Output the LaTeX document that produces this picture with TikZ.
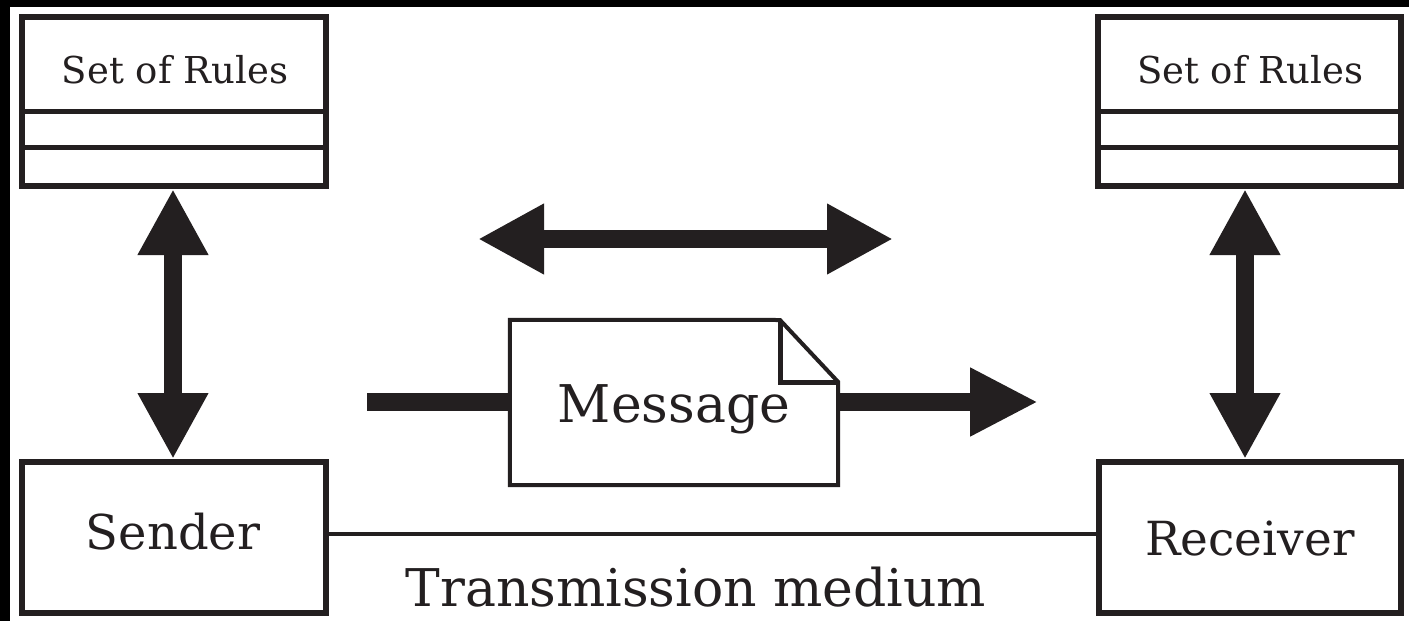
\documentclass[tikz,border=0pt]{standalone}
\usepackage{fontspec}
\setmainfont{DejaVu Serif}
\usetikzlibrary{arrows.meta}
\definecolor{ink}{RGB}{35,31,32}
\begin{document}
\begin{tikzpicture}[x=1pt,y=-1pt,
  box/.style={draw=ink,line width=5.5pt,inner sep=0pt,outer sep=0pt,minimum width=304pt},
  lbl/.style={anchor=base,inner sep=0pt,text=ink},
  fat/.style={draw=ink,line width=18pt},
  oneway/.style={fat,-{Triangle[length=68pt,width=64pt]}},
  twoway/.style={fat,{Triangle[length=66pt,width=66pt]}-{Triangle[length=66pt,width=66pt]}}]
\useasboundingbox (0,0) rectangle (1409,621);
\fill[black] (0,0) rectangle (1409,621);
\fill[white] (10,7) rectangle (1409,621);
% rule boxes
\node[box,minimum height=169pt] (rulesL) at (174,101.5) {};
\node[box,minimum height=169pt,minimum width=303pt] (rulesR) at (1249.5,101.5) {};
\coordinate (d1) at (0,111.5);
\coordinate (d2) at (0,147.5);
\draw[ink,line width=5.5pt] (rulesL.west |- d1) -- (rulesL.east |- d1);
\draw[ink,line width=5.5pt] (rulesL.west |- d2) -- (rulesL.east |- d2);
\draw[ink,line width=5.5pt] (rulesR.west |- d1) -- (rulesR.east |- d1);
\draw[ink,line width=5.5pt] (rulesR.west |- d2) -- (rulesR.east |- d2);
\node[lbl,font=\fontsize{37}{40}\selectfont] (tL) at (175,83) {Set of Rules};
\node[lbl,font=\fontsize{37}{40}\selectfont] (tR) at (1250,83) {Set of Rules};
% sender / receiver
\node[box,minimum height=151pt] (sender) at (174,537.5) {};
\node[box,minimum height=151pt,minimum width=302pt] (receiver) at (1250,537.5) {};
\node[lbl,font=\fontsize{48}{52}\selectfont] (ts) at (173,549) {Sender};
\node[lbl,font=\fontsize{47}{51}\selectfont] (tr) at (1250,555) {Receiver};
% transmission medium
\coordinate (ty) at (0,534);
\draw[ink,line width=4.5pt] (sender.east |- ty) -- (receiver.west |- ty);
\node[lbl,font=\fontsize{52}{56}\selectfont] (tm) at (696,606) {Transmission medium};
% vertical double arrows
\coordinate (aL) at (173,0);
\coordinate (aR) at (1245,0);
\draw[twoway,shorten <=3pt,shorten >=3pt] (rulesL.south -| aL) -- (sender.north -| aL);
\draw[twoway,shorten <=3pt,shorten >=3pt] (rulesR.south -| aR) -- (receiver.north -| aR);
% horizontal double arrow
\coordinate (hL) at (478,239);
\coordinate (hR) at (893,239);
\draw[twoway] (hL) -- (hR);
% message document
\node[inner sep=0pt,minimum width=328pt,minimum height=165pt] (msg) at (674,402.5) {};
\coordinate (fy) at (0,382);
\draw[ink,line width=4pt,line join=miter,fill=white]
  (msg.north west) -- (780,320) -- (msg.east |- fy) -- (msg.south east) -- (msg.south west) -- cycle;
\draw[ink,line width=5pt,line join=miter] (780,320) -- (780,382) -- (msg.east |- fy);
\node[lbl,font=\fontsize{52}{56}\selectfont] (tmsg) at (674,422) {Message};
\coordinate (mIn) at (367,402);
\coordinate (mOut) at (1038,402);
\draw[fat] (mIn) -- (msg.west |- mIn);
\draw[oneway] (msg.east |- mOut) -- (mOut);
\end{tikzpicture}
\end{document}
